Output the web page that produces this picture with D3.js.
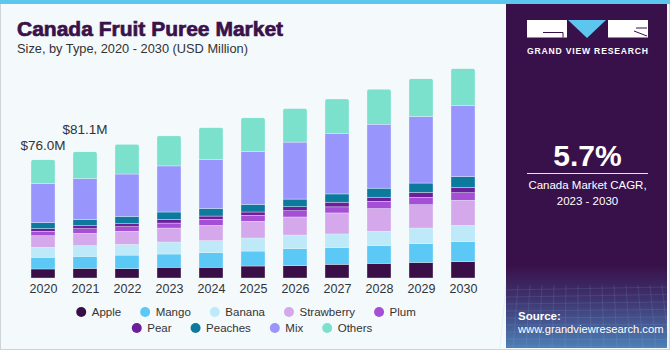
<!DOCTYPE html>
<html><head><meta charset="utf-8">
<script src="https://cdn.jsdelivr.net/npm/d3@7"></script>
<style>html,body{margin:0;padding:0;background:#fff;}svg{display:block;font-family:"Liberation Sans",Arial,sans-serif;}</style>
</head><body>
<svg id="c" width="670" height="350"></svg>
<script>
const years = ["2020","2021","2022","2023","2024","2025","2026","2027","2028","2029","2030"];
const seriesNames = ["Apple","Mango","Banana","Strawberry","Plum","Pear","Peaches","Mix","Others"];
const seriesColors = ["#3a0f47","#5bc8f5","#bde9f9","#d5a8eb","#a44fd5","#6c1f9b","#0b7a9d","#9896fd","#7be0cc"];
const apple      = [5.8, 6.2, 6.0, 6.9, 6.9, 7.7, 7.9, 8.8, 9.4, 10.0, 10.5];
const mango      = [7.5, 7.7, 8.7, 8.5, 9.4, 9.6, 10.9, 10.7, 11.4, 12.0, 12.8];
const banana     = [6.4, 6.9, 6.9, 7.7, 7.7, 8.4, 8.8, 8.8, 9.2, 10.1, 10.5];
const strawberry = [7.5, 7.9, 8.4, 9.0, 9.8, 10.7, 11.6, 13.5, 14.6, 15.0, 16.1];
const plum       = [2.8, 3.0, 3.0, 3.2, 3.9, 3.9, 4.0, 3.9, 4.7, 4.7, 4.9];
const pear       = [1.7, 1.9, 1.9, 2.4, 2.1, 2.1, 2.6, 3.0, 2.6, 3.2, 3.4];
const peaches    = [3.9, 4.0, 4.7, 4.7, 4.9, 4.9, 4.9, 5.3, 5.8, 6.0, 6.9];
const mix        = [25.2, 26.3, 27.2, 29.6, 31.5, 34.0, 36.6, 38.7, 41.1, 42.8, 45.8];
const others     = [15.2, 17.2, 19.1, 19.3, 20.4, 21.6, 21.6, 22.3, 22.5, 24.2, 23.6];
const valueLabels = [{year:"2020", text:"$76.0M", lift:10}, {year:"2021", text:"$81.1M", lift:18}];
const cagrText = "5.7%";

const seriesVals = [apple,mango,banana,strawberry,plum,pear,peaches,mix,others];
const table = years.map((y,i)=>{const o={year:y}; seriesNames.forEach((s,k)=>o[s]=seriesVals[k][i]); return o;});

const svg = d3.select("#c");
// background
svg.append("rect").attr("x",0).attr("y",0).attr("width",670).attr("height",350).attr("fill","#f4f9fc");
svg.append("rect").attr("x",0.5).attr("y",0.5).attr("width",669).attr("height",349).attr("fill","none").attr("stroke","#cdd5da");
svg.append("rect").attr("x",0).attr("y",0).attr("width",670).attr("height",4).attr("fill","#5dc6ee");

// title
svg.append("text").attr("x",17).attr("y",36).attr("font-size",21).attr("font-weight","bold")
  .attr("fill","#3a1249").attr("stroke","#3a1249").attr("stroke-width",0.7).text("Canada Fruit Puree Market");
svg.append("text").attr("x",17).attr("y",53).attr("font-size",12.8).attr("fill","#333").text("Size, by Type, 2020 - 2030 (USD Million)");

// scales
const x = d3.scalePoint().domain(years).range([43,463]);
const y = d3.scaleLinear().domain([0,140]).range([278, 278-140*1.5567]);
const color = d3.scaleOrdinal().domain(seriesNames).range(seriesColors);
const bw = 24;

const stacked = d3.stack().keys(seriesNames)(table);
const totals = table.map(d=>d3.sum(seriesNames,s=>d[s]));

// clip with rounded top per bar
const defs = svg.append("defs");
years.forEach((yr,i)=>{
  defs.append("clipPath").attr("id","clip"+i).append("rect")
    .attr("x",x(yr)-bw/2).attr("y",y(totals[i])).attr("width",bw).attr("height",y(0)-y(totals[i])+3).attr("rx",2.5);
});
const g = svg.append("g");
stacked.forEach(layer=>{
  layer.forEach((d,i)=>{
    g.append("rect").attr("clip-path","url(#clip"+i+")")
      .attr("x",x(years[i])-bw/2).attr("width",bw)
      .attr("y",y(d[1])).attr("height",y(d[0])-y(d[1]))
      .attr("fill",color(layer.key))
      .attr("stroke","#eef6fb").attr("stroke-width",0.5).attr("stroke-opacity",0.7);
  });
});

// x axis labels
const xAxis = d3.axisBottom(x).tickSize(0).tickPadding(0);
const ax = svg.append("g").attr("transform","translate(0,280)").call(xAxis);
ax.select(".domain").remove();
ax.selectAll("text").attr("font-size",12.5).attr("fill","#333").attr("dy","0").attr("y",13)
  .attr("font-family","Liberation Sans, Arial, sans-serif");

// value labels
valueLabels.forEach(v=>{
  const i = years.indexOf(v.year);
  svg.append("text").attr("x",x(v.year)).attr("y",y(totals[i])-v.lift).attr("text-anchor","middle")
    .attr("font-size",13.5).attr("fill","#333").text(v.text);
});

// legend
const rows = [seriesNames.slice(0,5), seriesNames.slice(5)];
const rowY = [312, 328];
const rowCenter = [246, 252];
const gaps = 19;
rows.forEach((row,ri)=>{
  const lg = svg.append("g");
  let cx = 0;
  row.forEach(s=>{
    const it = lg.append("g").attr("transform",`translate(${cx},0)`);
    it.append("circle").attr("cx",5).attr("cy",0).attr("r",5).attr("fill",color(s));
    const t = it.append("text").attr("x",15.5).attr("y",4.2).attr("font-size",11.5).attr("fill","#333").text(s);
    cx += 15.5 + t.node().getComputedTextLength() + gaps;
  });
  const w = cx - gaps;
  lg.attr("transform",`translate(${rowCenter[ri] - w/2},${rowY[ri]})`);
});

// right panel
const grad = defs.append("linearGradient").attr("id","pg").attr("x1",0).attr("y1",0).attr("x2",0).attr("y2",1);
grad.append("stop").attr("offset","0").attr("stop-color","#39114a");
grad.append("stop").attr("offset","0.76").attr("stop-color","#39114a");
grad.append("stop").attr("offset","0.86").attr("stop-color","#3f3470");
grad.append("stop").attr("offset","1").attr("stop-color","#4d7fb6");
svg.append("rect").attr("x",506).attr("y",4).attr("width",161).attr("height",344).attr("fill","url(#pg)");
// faint grid on bottom
const grid = svg.append("g").attr("stroke","#8fb6e0").attr("stroke-opacity",0.25).attr("stroke-width",0.6).attr("fill","none");
for(let k=0;k<9;k++){ grid.append("line").attr("x1",506).attr("x2",667).attr("y1",290+k*7).attr("y2",287+k*7.5); }
for(let k=0;k<14;k++){ grid.append("line").attr("x1",506+k*12).attr("x2",500+k*13).attr("y1",285).attr("y2",348); }

// logo
const lg2 = svg.append("g");
lg2.append("rect").attr("x",527).attr("y",20).attr("width",40).attr("height",17.5).attr("fill","#fff");
lg2.append("path").attr("d","M543,32.5 H563 V37.5").attr("stroke","#39114a").attr("stroke-width",1).attr("fill","none");
lg2.append("path").attr("d","M568,20 H606 L587,38 Z").attr("fill","#5dc6ee");
lg2.append("rect").attr("x",608).attr("y",20).attr("width",40).attr("height",17.5).attr("fill","#fff");
lg2.append("path").attr("d","M634,31 L647,36 M636,28 H647").attr("stroke","#39114a").attr("stroke-width",1).attr("fill","none");
svg.append("text").attr("x",527).attr("y",54).attr("font-size",8.6).attr("font-weight","bold").attr("fill","#fff")
  .attr("textLength",121).attr("lengthAdjust","spacing").text("GRAND VIEW RESEARCH");

svg.append("text").attr("x",587.5).attr("y",166).attr("text-anchor","middle").attr("font-size",30).attr("font-weight","bold").attr("fill","#fff").text(cagrText);
svg.append("line").attr("x1",527).attr("x2",648).attr("y1",173.5).attr("y2",173.5).attr("stroke","#e8e0ee").attr("stroke-width",1.2);
svg.append("text").attr("x",587.5).attr("y",189).attr("text-anchor","middle").attr("font-size",11.5).attr("fill","#fff").text("Canada Market CAGR,");
svg.append("text").attr("x",587.5).attr("y",205).attr("text-anchor","middle").attr("font-size",11.5).attr("fill","#fff").text("2023 - 2030");
svg.append("text").attr("x",518).attr("y",320).attr("font-size",11.5).attr("font-weight","bold").attr("fill","#fff").text("Source:");
svg.append("text").attr("x",518).attr("y",333).attr("font-size",11.2).attr("fill","#fff").text("www.grandviewresearch.com");
</script>
</body></html>
